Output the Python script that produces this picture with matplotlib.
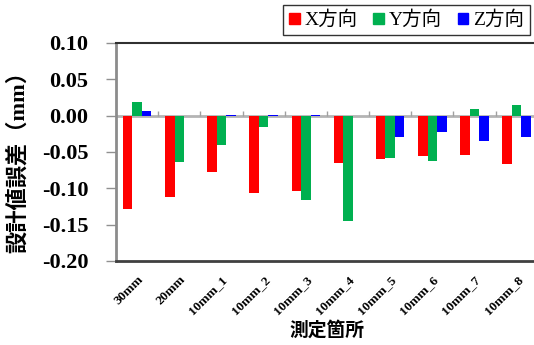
import numpy as np
import matplotlib.pyplot as plt
from matplotlib.patches import Patch

# 測定箇所ごとの設計値誤差 (mm)
labels = ['30mm', '20mm', '10mm_1', '10mm_2', '10mm_3',
          '10mm_4', '10mm_5', '10mm_6', '10mm_7', '10mm_8']
err_x = [-0.129, -0.112, -0.078, -0.106, -0.103, -0.065, -0.060, -0.056, -0.054, -0.066]
err_y = [0.019, -0.064, -0.040, -0.016, -0.116, -0.145, -0.058, -0.062, 0.009, 0.015]
err_z = [0.0065, -0.001, 0.001, 0.001, 0.001, -0.001, -0.029, -0.022, -0.035, -0.029]
series_names = ['X方向', 'Y方向', 'Z方向']
colors = ['#ff0000', '#00b050', '#0000ff']
yticks = [-0.20, -0.15, -0.10, -0.05, 0.00, 0.05, 0.10]

serif = ['Liberation Serif', 'Noto Sans CJK JP']
gothic = ['Noto Sans CJK JP', 'DejaVu Sans']

fig = plt.figure(figsize=(5.34, 3.45), dpi=100)
W, H = 534, 345
ax = fig.add_axes([116 / W, 1 - 261 / H, 421.7 / W, 218 / H])

x = np.arange(len(labels))
w = 0.225
for i, (vals, c) in enumerate(zip([err_x, err_y, err_z], colors)):
    ax.bar(x + (i - 1) * w, vals, w, color=c, zorder=3)

# ゼロ線と区切り目盛
ax.axhline(0, color='#b4b4b4', lw=2, zorder=2)
ax.vlines(x[1:] - 0.5, 0, 0.006, color='#a0a0a0', lw=1, zorder=2)

ax.set_xlim(-0.5, 9.5)
ax.set_ylim(-0.20, 0.10)
ax.set_yticks(yticks)
ax.set_yticklabels([f'{v:.2f}' for v in yticks],
                   family=serif, fontweight='bold', fontsize=16)
ax.tick_params(axis='y', direction='out', length=7, width=1,
               color='#909090', pad=13)

ax.set_xticks(x)
ax.set_xticklabels(labels, rotation=45, ha='right', rotation_mode='anchor',
                   family=serif, fontweight='bold', fontsize=9.5)
ax.tick_params(axis='x', length=0, pad=9)

ax.spines['left'].set_color('#8c8c8c')
ax.spines['left'].set_linewidth(2)
ax.spines['top'].set_color('#303030')
ax.spines['top'].set_linewidth(1.5)
ax.spines['bottom'].set_color('#404040')
ax.spines['bottom'].set_linewidth(2)
ax.spines['right'].set_visible(False)

ax.set_ylabel('設計値誤差（mm）', family=serif + ['DejaVu Sans'], fontweight='bold',
              fontsize=16)
ax.yaxis.set_label_coords(-0.207, 0.48)
ax.set_xlabel('測定箇所', family=gothic, fontweight='bold', fontsize=13.5)
ax.xaxis.set_label_coords(0.5, -0.275)

handles = [Patch(color=c) for c in colors]
leg = fig.legend(handles, series_names, loc='upper right',
                 bbox_to_anchor=(530 / W, 1 - 5 / H), ncol=3,
                 prop={'family': serif, 'size': 14},
                 handlelength=0.55, handleheight=0.55, handletextpad=0.25,
                 columnspacing=0.8, borderpad=0.3, fancybox=False,
                 frameon=True, edgecolor='black', borderaxespad=0)
leg.get_frame().set_linewidth(1)

fig.savefig('out.png', dpi=100)
